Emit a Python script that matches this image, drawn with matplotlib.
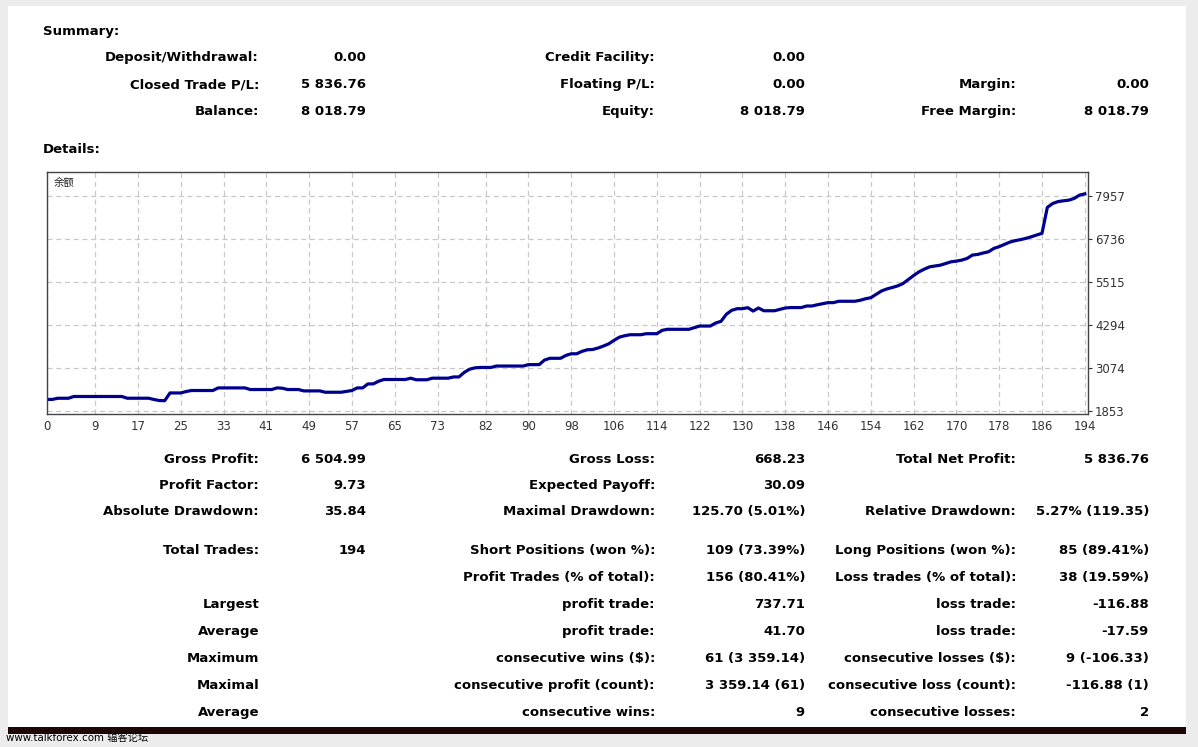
import numpy as np
import matplotlib.pyplot as plt
from matplotlib.patches import Rectangle

# -----------------------
# Data
# -----------------------
# balance after each trade (index 0 = start)
balance = [
    2182, 2182, 2215, 2215, 2215, 2265, 2265, 2265, 2265, 2265,   # 0-9
    2265, 2265, 2265, 2265, 2265, 2216, 2216, 2216, 2216, 2216,   # 10-19
    2180, 2150, 2146, 2366, 2366, 2366, 2406, 2435, 2435, 2435,   # 20-29
    2435, 2435, 2509, 2509, 2509, 2509, 2509, 2509, 2463, 2463,   # 30-39
    2463, 2463, 2463, 2509, 2500, 2463, 2463, 2463, 2424, 2424,   # 40-49
    2424, 2424, 2386, 2386, 2386, 2386, 2410, 2435, 2509, 2509,   # 50-59
    2623, 2623, 2700, 2748, 2748, 2748, 2748, 2748, 2785, 2740,   # 60-69
    2740, 2740, 2785, 2785, 2785, 2785, 2820, 2820, 2950, 3040,   # 70-79
    3079, 3090, 3090, 3090, 3130, 3130, 3130, 3130, 3130, 3130,   # 80-89
    3170, 3170, 3170, 3300, 3350, 3350, 3350, 3432, 3478, 3478,   # 90-99
    3546, 3592, 3600, 3641, 3697, 3760, 3860, 3950, 3990, 4019,   # 100-109
    4019, 4019, 4048, 4048, 4048, 4144, 4173, 4173, 4173, 4173,   # 110-119
    4173, 4218, 4266, 4266, 4266, 4352, 4400, 4600, 4713, 4758,   # 120-129
    4758, 4787, 4691, 4778, 4700, 4700, 4700, 4740, 4778, 4790,   # 130-139
    4790, 4790, 4835, 4835, 4870, 4901, 4930, 4930, 4969, 4969,   # 140-149
    4969, 4969, 4997, 5040, 5071, 5168, 5262, 5319, 5360, 5405,   # 150-159
    5471, 5585, 5700, 5805, 5881, 5947, 5970, 5995, 6043, 6090,   # 160-169
    6110, 6138, 6186, 6281, 6300, 6340, 6375, 6470, 6520, 6584,   # 170-179
    6650, 6690, 6720, 6756, 6800, 6851, 6898, 7636, 7746, 7800,   # 180-189
    7822, 7840, 7888, 7983, 8019,                                 # 190-194
]
x_ticks = [0, 9, 17, 25, 33, 41, 49, 57, 65, 73, 82, 90, 98, 106, 114,
           122, 130, 138, 146, 154, 162, 170, 178, 186, 194]
y_ticks = [1853, 3074, 4294, 5515, 6736, 7957]

summary_rows = [
    ["Deposit/Withdrawal:", "0.00", "Credit Facility:", "0.00", "", ""],
    ["Closed Trade P/L:", "5 836.76", "Floating P/L:", "0.00", "Margin:", "0.00"],
    ["Balance:", "8 018.79", "Equity:", "8 018.79", "Free Margin:", "8 018.79"],
]
detail_rows = [
    ["Gross Profit:", "6 504.99", "Gross Loss:", "668.23", "Total Net Profit:", "5 836.76"],
    ["Profit Factor:", "9.73", "Expected Payoff:", "30.09", "", ""],
    ["Absolute Drawdown:", "35.84", "Maximal Drawdown:", "125.70 (5.01%)",
     "Relative Drawdown:", "5.27% (119.35)"],
    ["Total Trades:", "194", "Short Positions (won %):", "109 (73.39%)",
     "Long Positions (won %):", "85 (89.41%)"],
    ["", "", "Profit Trades (% of total):", "156 (80.41%)",
     "Loss trades (% of total):", "38 (19.59%)"],
    ["Largest", "", "profit trade:", "737.71", "loss trade:", "-116.88"],
    ["Average", "", "profit trade:", "41.70", "loss trade:", "-17.59"],
    ["Maximum", "", "consecutive wins ($):", "61 (3 359.14)",
     "consecutive losses ($):", "9 (-106.33)"],
    ["Maximal", "", "consecutive profit (count):", "3 359.14 (61)",
     "consecutive loss (count):", "-116.88 (1)"],
    ["Average", "", "consecutive wins:", "9", "consecutive losses:", "2"],
]

# -----------------------
# Layout (pixels of a 1198x747 image)
# -----------------------
W, H = 1198, 747
col_x = [259, 366, 655, 805, 1016, 1149]
summary_y = [56, 83, 110]
detail_y = [458, 484, 510, 549, 576, 603, 630, 657, 684, 711]

plt.rcParams['font.family'] = ['DejaVu Sans', 'Noto Sans CJK SC']

fig = plt.figure(figsize=(W / 100, H / 100), dpi=100)
fig.patch.set_facecolor('#ececec')

def fx(px):
    return px / W

def fy(py):
    return 1 - py / H

# white page + dark bottom band
fig.patches.append(Rectangle((fx(8), fy(727)), fx(1186 - 8), (727 - 6) / H,
                             transform=fig.transFigure, facecolor='white',
                             edgecolor='none', zorder=-10))
fig.patches.append(Rectangle((fx(8), fy(734)), fx(1186 - 8), 7 / H,
                             transform=fig.transFigure, facecolor='#1c0606',
                             edgecolor='none', zorder=-10))

txt = dict(fontsize=9.5, fontweight='bold', color='black', va='center_baseline')

fig.text(fx(43), fy(30), "Summary:", ha='left', **txt)
fig.text(fx(43), fy(148), "Details:", ha='left', **txt)

def put_rows(rows, ys):
    for row, yy in zip(rows, ys):
        for s, cx in zip(row, col_x):
            if s:
                fig.text(fx(cx), fy(yy), s, ha='right', **txt)

put_rows(summary_rows, summary_y)
put_rows(detail_rows, detail_y)

fig.text(fx(6), fy(738), "www.talkforex.com 辐客论坛", ha='left', va='center',
         fontsize=7.4, color='#000000')

# -----------------------
# Balance chart
# -----------------------
ax = fig.add_axes([fx(47), fy(414), fx(1088 - 47), (414 - 172) / H])
trades = np.arange(len(balance))
ax.plot(trades, balance, color='#00008e', linewidth=2.3, solid_joinstyle='round')

ax.set_xlim(0.6, 194.6)
ax.set_ylim(1768, 8640)
ax.set_xticks(x_ticks)
ax.set_yticks(y_ticks)
ax.yaxis.tick_right()
ax.tick_params(axis='both', labelsize=8.5, colors='#333333', length=3, width=0.8,
               pad=2)
ax.tick_params(axis='x', length=0, pad=4)
ax.grid(True, color='#c8c8c8', linestyle=(0, (4, 3)), linewidth=0.9)
for s in ax.spines.values():
    s.set_color('#444444')
    s.set_linewidth(1.0)
ax.text(0.006, 0.955, "余额", transform=ax.transAxes, ha='left', va='center',
        fontsize=7.5, color='#222222', family=['Noto Sans CJK SC', 'DejaVu Sans'])

fig.savefig("out.png", dpi=100, facecolor=fig.get_facecolor())
